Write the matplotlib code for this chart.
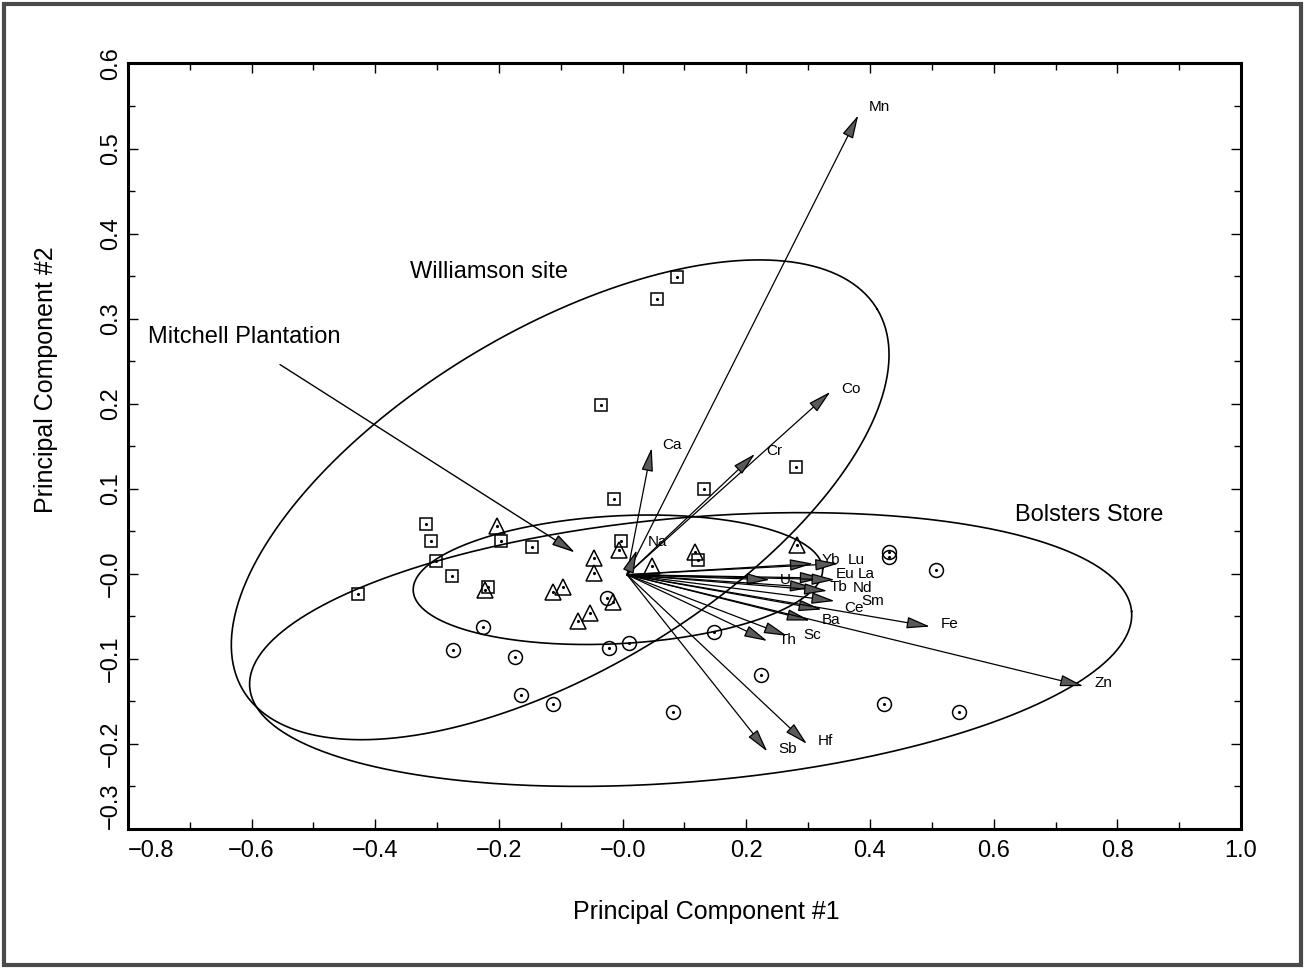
import numpy as np
import matplotlib
matplotlib.use("Agg")
import matplotlib.pyplot as plt
from matplotlib import font_manager
from matplotlib.patches import Rectangle

# pick a narrow sans if there is one, else plain Liberation Sans
names = {f.name for f in font_manager.fontManager.ttflist}
narrow = "Liberation Sans Narrow" if "Liberation Sans Narrow" in names else "Liberation Sans"
plt.rcParams["font.family"] = ["Liberation Sans", "DejaVu Sans"]

# ---- sample scores ----
# Williamson site (squares)
sq_x = [-0.428, -0.318, -0.310, -0.301, -0.276, -0.218, -0.197, -0.147,
        -0.035, -0.014, -0.003, 0.055, 0.088, 0.132, 0.122, 0.281]
sq_y = [-0.024, 0.059, 0.038, 0.015, -0.002, -0.016, 0.039, 0.031,
        0.199, 0.088, 0.039, 0.323, 0.349, 0.100, 0.016, 0.126]
# Mitchell Plantation (triangles)
tri_x = [-0.203, -0.223, -0.113, -0.097, -0.072, -0.053, -0.046, -0.046,
         -0.016, -0.006, 0.047, 0.117, 0.282]
tri_y = [0.056, -0.019, -0.021, -0.016, -0.056, -0.046, 0.019, 0.001,
         -0.033, 0.028, 0.009, 0.026, 0.034]
# Bolsters Store (circles)
circ_x = [-0.275, -0.226, -0.174, -0.165, -0.113, -0.025, -0.022, 0.010,
          0.081, 0.148, 0.224, 0.430, 0.431, 0.507, 0.423, 0.544]
circ_y = [-0.090, -0.063, -0.098, -0.142, -0.153, -0.028, -0.087, -0.081,
          -0.162, -0.069, -0.119, 0.026, 0.020, 0.004, -0.153, -0.163]

# ---- element loadings ----
elements = ["Mn", "Co", "Cr", "Ca", "Na", "Yb", "Lu", "Eu", "La", "U", "Tb",
            "Nd", "Sm", "Ce", "Ba", "Sc", "Th", "Fe", "Zn", "Sb", "Hf"]
load_x = [0.381, 0.336, 0.214, 0.047, 0.023, 0.308, 0.349, 0.324, 0.343, 0.238, 0.308,
          0.331, 0.343, 0.322, 0.303, 0.266, 0.234, 0.497, 0.745, 0.234, 0.298]
load_y = [0.539, 0.214, 0.141, 0.148, 0.028, 0.012, 0.012, -0.005, -0.007, -0.007, -0.016,
          -0.020, -0.032, -0.042, -0.055, -0.073, -0.079, -0.062, -0.132, -0.209, -0.200]
origin = (0.007, -0.001)

# ---- group ellipses: centre, two conjugate semi-axes ----
groups = ["Williamson site", "Bolsters Store", "Mitchell Plantation"]
ell_center = [(-0.101, 0.087), (0.110, -0.089), (-0.0076, -0.007)]
ell_u = [(0.5125, 0.2243), (0.713, 0.0447), (0.331, 0.013)]
ell_v = [(0.1419, -0.171), (0.0184, -0.1546), (0.0057, -0.075)]

# label nudges (pixels right / up from the arrow tip) for the crowded bundle
nudge = {"Mn": (11, 8), "Na": (11, 8), "Yb": (9, 4), "Lu": (9, 4), "Eu": (13, 4),
         "La": (23, 6), "U": (10, 0), "Tb": (17, 0), "Nd": (25, 3), "Sm": (27, 0),
         "Ce": (22, 2), "Ba": (12, 1), "Sc": (16, 1), "Th": (11, 1)}

fig = plt.figure(figsize=(13.05, 9.69), dpi=100)
ax = fig.add_axes([0.098, 0.1445, 0.853, 0.790])

# ellipses
t = np.linspace(0, 2 * np.pi, 400)
for c, u, v in zip(ell_center, ell_u, ell_v):
    ex = c[0] + u[0] * np.cos(t) + v[0] * np.sin(t)
    ey = c[1] + u[1] * np.cos(t) + v[1] * np.sin(t)
    ax.plot(ex, ey, color="black", lw=1.2)

# loading arrows
head = "-|>,head_length=1.2,head_width=0.3"
for name, lx, ly in zip(elements, load_x, load_y):
    ax.annotate("", xy=(lx, ly), xytext=origin,
                arrowprops=dict(arrowstyle=head, mutation_scale=12, lw=0.9,
                                color="black", fc="#5a5a5a", shrinkA=0, shrinkB=0))
    dx, dy = nudge.get(name, (11, 3))
    ax.annotate(name, xy=(lx, ly), xytext=(dx * 0.72, dy * 0.72),
                textcoords="offset points", fontsize=11, ha="left", va="center")

# markers with centre dot
ax.plot(sq_x, sq_y, "s", ms=9, mfc="none", mec="black", mew=1.1, ls="none")
ax.plot(tri_x, tri_y, "^", ms=11, mfc="none", mec="black", mew=1.1, ls="none")
ax.plot(circ_x, circ_y, "o", ms=10, mfc="none", mec="black", mew=1.1, ls="none")
ax.plot(sq_x + tri_x + circ_x, sq_y + tri_y + circ_y, ".", ms=2.5, color="black", ls="none")

# group labels
ax.text(-0.344, 0.355, "Williamson site", fontsize=17, ha="left", va="center")
ax.text(-0.768, 0.278, "Mitchell Plantation", fontsize=17, ha="left", va="center")
ax.text(0.635, 0.069, "Bolsters Store", fontsize=17, ha="left", va="center")
ax.annotate("", xy=(-0.077, 0.025), xytext=(-0.554, 0.246),
            arrowprops=dict(arrowstyle=head, mutation_scale=12, lw=1.0,
                            color="black", fc="#5a5a5a", shrinkA=0, shrinkB=0))

# axes
ax.set_xlim(-0.8, 1.0)
ax.set_ylim(-0.3, 0.6)
xt = np.round(np.arange(-0.8, 1.01, 0.2), 1)
yt = np.round(np.arange(-0.3, 0.61, 0.1), 1)


def fmt(v):
    return "\u22120.0" if v == 0 else f"{v:.1f}".replace("-", "\u2212")


ax.set_xticks(xt)
ax.set_xticklabels([fmt(v) for v in xt], fontsize=17, family=narrow)
ax.set_xticks(np.round(np.arange(-0.7, 1.0, 0.2), 1), minor=True)
ax.set_yticks(yt)
ax.set_yticklabels([fmt(v) for v in yt], fontsize=17, family=narrow, rotation=90,
                   va="center")
ax.set_yticks(np.round(np.arange(-0.25, 0.6, 0.1), 2), minor=True)
ax.get_xticklabels()[0].set_ha("left")
ax.get_yticklabels()[0].set_va("bottom")
ax.tick_params(which="both", direction="in", top=True, right=True, width=1.0)
ax.tick_params(which="major", length=7)
ax.tick_params(axis="x", which="major", pad=8)
ax.tick_params(axis="y", which="major", pad=4)
ax.tick_params(which="minor", length=5)
for s in ax.spines.values():
    s.set_linewidth(2.2)

ax.set_xlabel("Principal Component #1", fontsize=18, family=narrow)
ax.set_ylabel("Principal Component #2", fontsize=18, family=narrow)
ax.xaxis.set_label_coords(0.52, -0.093)
ax.yaxis.set_label_coords(-0.063, 0.587)

# outer frame of the scanned page
fig.patches.append(Rectangle((0.003, 0.004), 0.994, 0.992, transform=fig.transFigure,
                             fill=False, lw=3, ec="#4a4a4a"))

fig.savefig("out.png", dpi=100)
